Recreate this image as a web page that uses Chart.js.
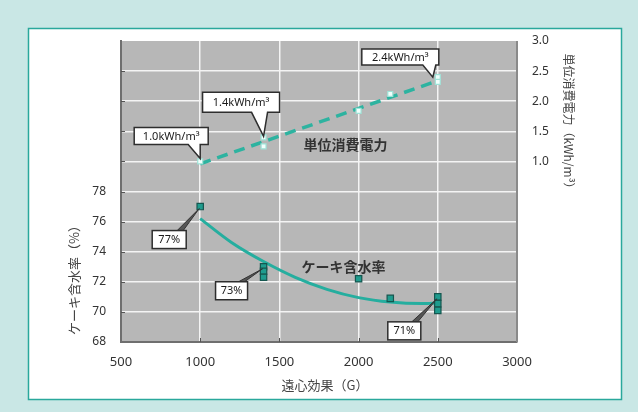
<!DOCTYPE html>
<html>
<head>
<meta charset="utf-8">
<script src="https://cdn.jsdelivr.net/npm/chart.js@4/dist/chart.umd.min.js"></script>
<style>
  html, body { margin: 0; padding: 0; background: #c9e7e5; }
  #wrap { position: relative; width: 638px; height: 412px; }
  canvas { display: block; }
</style>
</head>
<body>
<div id="wrap"><canvas id="c" width="638" height="412"></canvas></div>
<script>
// ---- data ----
const xTicks = [500, 1000, 1500, 2000, 2500, 3000];
const moistureTicks = [68, 70, 72, 74, 76, 78];
const powerTicks = [1.0, 1.5, 2.0, 2.5, 3.0];

// unit power consumption (kWh/m3), right axis
const powerX = [1000, 1400, 1400, 2000, 2200, 2500, 2500];
const powerY = [1.0, 1.4, 1.25, 1.84, 2.12, 2.4, 2.32];
const powerTrendX = [1000, 2500];
const powerTrendY = [0.96, 2.34];

// cake moisture content (%), left axis
const moistureX = [1000, 1400, 1400, 1400, 2000, 2200, 2500, 2500, 2500];
const moistureY = [77, 73, 72.7, 72.3, 72.2, 70.9, 71, 70.55, 70.1];
const moistureCurveX = [1000, 1200, 1400, 1600, 1800, 2000, 2200, 2400, 2500];
const moistureCurveY = [76.2, 74.6, 73.35, 72.3, 71.5, 70.95, 70.65, 70.55, 70.6];

// value call-outs
const powerCalloutX = [1000, 1400, 2500];
const powerCalloutY = [1.0, 1.4, 2.4];
const powerCalloutText = ['1.0kWh/m³', '1.4kWh/m³', '2.4kWh/m³'];
const moistureCalloutX = [1000, 1400, 2500];
const moistureCalloutY = [77, 73, 71];
const moistureCalloutText = ['77%', '73%', '71%'];

// ---- layout of the call-out boxes, relative to the marked point ----
const powerBoxLayout = [
  { l: -66, r: 8, t: -34, b: -17, p1: -12, p2: 0, tipDx: 0, tipDy: -3 },
  { l: -61, r: 16, t: -45, b: -25, p1: -12, p2: 4, tipDx: 0, tipDy: -1 },
  { l: -76, r: 1, t: -28, b: -12, p1: -15, p2: -2, tipDx: -5, tipDy: 0 }
];
const moistureBoxLayout = [
  { l: -48, r: -14, t: 24, b: 42 },
  { l: -48, r: -16, t: 15, b: 33 },
  { l: -50, r: -17, t: 25, b: 43 }
];

const makePoints = (xs, ys) => xs.map((x, i) => ({ x: x, y: ys[i] }));

const FONT = '"Noto Sans", "Noto Sans CJK JP", sans-serif';
const JP = '"Noto Sans CJK JP", "Noto Sans", sans-serif';

// background, frame and plot panel
const framePlugin = {
  id: 'frame',
  beforeDraw(chart) {
    const { ctx, chartArea: a } = chart;
    ctx.save();
    ctx.fillStyle = '#c9e7e5';
    ctx.fillRect(0, 0, chart.width, chart.height);
    ctx.fillStyle = '#ffffff';
    ctx.fillRect(28, 28, 594, 372);
    ctx.strokeStyle = '#2aa89c';
    ctx.lineWidth = 1.5;
    ctx.strokeRect(28.5, 28.5, 593, 371);
    ctx.fillStyle = '#b7b7b7';
    ctx.fillRect(a.left, a.top, a.right - a.left, a.bottom - a.top);
    ctx.restore();
  },
  afterDraw(chart) {
    const { ctx, chartArea: a, scales } = chart;
    ctx.save();
    // right edge of the panel
    ctx.strokeStyle = '#8a8a8a';
    ctx.lineWidth = 2;
    ctx.beginPath();
    ctx.moveTo(a.right, a.top);
    ctx.lineTo(a.right, a.bottom);
    ctx.stroke();
    // short inner tick marks
    ctx.strokeStyle = '#555';
    ctx.lineWidth = 1;
    [1000, 1500, 2000, 2500].forEach(v => {
      const px = Math.round(scales.x.getPixelForValue(v)) + 0.5;
      ctx.beginPath(); ctx.moveTo(px, a.bottom); ctx.lineTo(px, a.bottom - 4); ctx.stroke();
    });
    for (let v = 70; v <= 86; v += 2) {
      const py = Math.round(scales.y.getPixelForValue(v)) + 0.5;
      ctx.beginPath(); ctx.moveTo(a.left, py); ctx.lineTo(a.left + 4, py); ctx.stroke();
    }

    // axis titles
    ctx.fillStyle = '#444';
    ctx.font = '13px ' + JP;
    ctx.textAlign = 'center';
    ctx.textBaseline = 'middle';
    ctx.fillText('遠心効果（G）', 325, 385);

    ctx.save();
    ctx.translate(74, 277);
    ctx.rotate(-Math.PI / 2);
    ctx.fillText('ケーキ含水率（%）', 0, 0);
    ctx.restore();

    ctx.save();
    ctx.font = '12px ' + JP;
    ctx.translate(569, 124);
    ctx.rotate(Math.PI / 2);
    ctx.fillText('単位消費電力（kWh/m³）', 0, 0);
    ctx.restore();

    // series names
    ctx.fillStyle = '#333';
    ctx.font = 'bold 14px ' + JP;
    ctx.fillText('単位消費電力', scales.x.getPixelForValue(1917), scales.y2.getPixelForValue(1.28));
    ctx.fillText('ケーキ含水率', scales.x.getPixelForValue(1905), scales.y.getPixelForValue(73.0));
    ctx.restore();
  }
};

// call-out boxes with pointers
const calloutPlugin = {
  id: 'callouts',
  afterDatasetsDraw(chart) {
    const { ctx, scales } = chart;
    ctx.save();
    ctx.font = '11px ' + FONT;
    ctx.textAlign = 'center';
    ctx.textBaseline = 'middle';

    // power call-outs: box above, pointer down to the point
    powerCalloutX.forEach((xv, i) => {
      const px = scales.x.getPixelForValue(xv);
      const py = scales.y2.getPixelForValue(powerCalloutY[i]);
      const L = powerBoxLayout[i];
      const l = px + L.l, r = px + L.r, t = py + L.t, b = py + L.b;
      ctx.beginPath();
      ctx.moveTo(l, t); ctx.lineTo(r, t); ctx.lineTo(r, b);
      ctx.lineTo(px + L.p2, b);
      ctx.lineTo(px + L.tipDx, py + L.tipDy);
      ctx.lineTo(px + L.p1, b);
      ctx.lineTo(l, b); ctx.closePath();
      ctx.fillStyle = '#ffffff';
      ctx.fill();
      ctx.strokeStyle = '#2e2e2e';
      ctx.lineWidth = 1.5;
      ctx.stroke();
      ctx.fillStyle = '#1a1a1a';
      ctx.fillText(powerCalloutText[i], (l + r) / 2, (t + b) / 2 + 0.5);
    });

    // moisture call-outs: box below-left, thin wedge up to the point
    moistureCalloutX.forEach((xv, i) => {
      const px = scales.x.getPixelForValue(xv);
      const py = scales.y.getPixelForValue(moistureCalloutY[i]);
      const L = moistureBoxLayout[i];
      const l = px + L.l, r = px + L.r, t = py + L.t, b = py + L.b;
      ctx.beginPath();
      ctx.moveTo(r - 9, t);
      ctx.lineTo(px - 1, py + 2);
      ctx.lineTo(r - 3, t);
      ctx.closePath();
      ctx.fillStyle = '#555';
      ctx.fill();
      ctx.strokeStyle = '#333';
      ctx.lineWidth = 1;
      ctx.stroke();
      ctx.fillStyle = '#ffffff';
      ctx.fillRect(l, t, r - l, b - t);
      ctx.strokeStyle = '#2e2e2e';
      ctx.lineWidth = 1.5;
      ctx.strokeRect(l, t, r - l, b - t);
      ctx.fillStyle = '#1a1a1a';
      ctx.fillText(moistureCalloutText[i], (l + r) / 2, (t + b) / 2 + 0.5);
    });
    ctx.restore();
  }
};

new Chart(document.getElementById('c'), {
  type: 'scatter',
  data: {
    datasets: [
      {
        label: '単位消費電力',
        yAxisID: 'y2',
        data: makePoints(powerX, powerY),
        showLine: false,
        pointStyle: 'rect',
        pointRadius: 3.5,
        backgroundColor: '#f2fffc',
        borderColor: '#9fe3d8',
        borderWidth: 1.2
      },
      {
        label: 'ケーキ含水率',
        yAxisID: 'y',
        data: makePoints(moistureX, moistureY),
        showLine: false,
        pointStyle: 'rect',
        pointRadius: 4.5,
        backgroundColor: '#1f9c8e',
        borderColor: '#15564f',
        borderWidth: 1.2
      },
      {
        label: '単位消費電力 近似',
        yAxisID: 'y2',
        data: makePoints(powerTrendX, powerTrendY),
        showLine: true,
        pointRadius: 0,
        borderColor: '#2db3a0',
        borderWidth: 3.5,
        borderDash: [11, 7]
      },
      {
        label: 'ケーキ含水率 近似',
        yAxisID: 'y',
        data: makePoints(moistureCurveX, moistureCurveY),
        showLine: true,
        pointRadius: 0,
        cubicInterpolationMode: 'monotone',
        borderColor: '#25ae9f',
        borderWidth: 3
      }
    ]
  },
  options: {
    responsive: false,
    animation: false,
    events: [],
    layout: { padding: { top: 41, left: 0, right: 0, bottom: 0 } },
    plugins: { legend: { display: false }, tooltip: { enabled: false } },
    scales: {
      x: {
        type: 'linear',
        min: xTicks[0],
        max: xTicks[xTicks.length - 1],
        afterBuildTicks(scale) { scale.ticks = xTicks.map(v => ({ value: v })); },
        afterFit(scale) { scale.height = 70; },
        grid: {
          drawTicks: false,
          lineWidth: 1.5,
          color: c => (c.tick && (c.tick.value === 500 || c.tick.value === 3000)) ? 'rgba(0,0,0,0)' : '#f4f4f4'
        },
        border: { display: true, color: '#6f6f6f', width: 2 },
        ticks: {
          padding: 12,
          color: '#333',
          font: { family: FONT, size: 13 },
          callback: v => String(v)
        }
      },
      y: {
        type: 'linear',
        position: 'left',
        min: 68,
        max: 88,
        afterBuildTicks(scale) {
          const t = [];
          for (let v = 68; v <= 88; v += 2) t.push({ value: v });
          scale.ticks = t;
        },
        afterFit(scale) { scale.width = 121; },
        grid: {
          drawTicks: false,
          lineWidth: 1.5,
          color: c => (c.tick && (c.tick.value === 68 || c.tick.value === 88)) ? 'rgba(0,0,0,0)' : '#f4f4f4'
        },
        border: { display: true, color: '#6f6f6f', width: 2 },
        ticks: {
          padding: 15,
          color: '#333',
          font: { family: FONT, size: 12 },
          callback: v => moistureTicks.includes(v) ? String(v) : ''
        }
      },
      y2: {
        type: 'linear',
        position: 'right',
        min: -2,
        max: 3,
        afterBuildTicks(scale) { scale.ticks = powerTicks.map(v => ({ value: v })); },
        afterFit(scale) { scale.width = 121; },
        grid: { display: false, drawTicks: false },
        border: { display: false },
        ticks: {
          padding: 15,
          color: '#333',
          font: { family: FONT, size: 12 },
          callback: v => v.toFixed(1)
        }
      }
    }
  },
  plugins: [framePlugin, calloutPlugin]
});
</script>
</body>
</html>
